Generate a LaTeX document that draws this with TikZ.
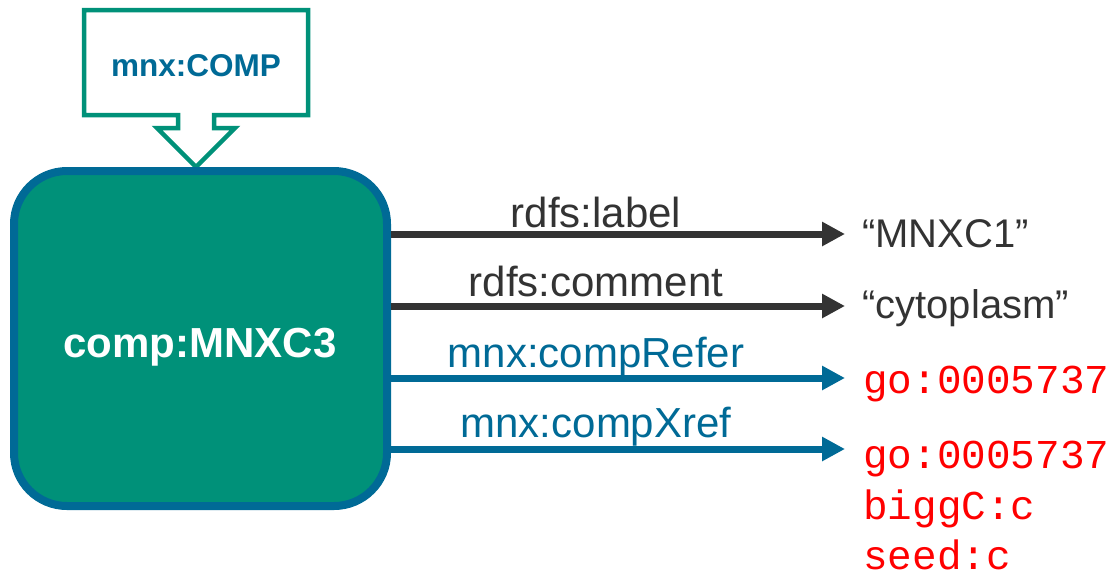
\documentclass[tikz,border=0pt]{standalone}
\usepackage{fontspec}
\setmainfont{Liberation Sans}
\setmonofont{Liberation Mono}
\usetikzlibrary{arrows.meta}
\definecolor{tealfill}{HTML}{009179}
\definecolor{bluec}{HTML}{006A96}
\definecolor{grayc}{HTML}{333333}
\definecolor{redc}{HTML}{FF0000}
\tikzset{
  mainbox/.style={draw=bluec, fill=tealfill, line width=8pt, rounded corners=53pt,
    minimum width=373pt, minimum height=335pt, inner sep=0pt},
  calloutline/.style={draw=tealfill, line width=4.5pt, line join=miter, fill=white},
  grayarrow/.style={draw=grayc, line width=7pt, -{Triangle[length=23pt,width=23pt]}},
  bluearrow/.style={draw=bluec, line width=7pt, -{Triangle[length=23pt,width=23pt]}},
  edgelabel/.style={anchor=base, inner sep=0pt, font=\fontsize{42}{50}\selectfont},
  valtext/.style={anchor=base west, inner sep=0pt, text=grayc, font=\fontsize{40}{48}\selectfont},
  idtext/.style={anchor=base west, inner sep=0pt, text=redc, font=\ttfamily\fontsize{41}{52}\selectfont},
}
\begin{document}
\begin{tikzpicture}[x=1pt,y=-1pt]
\useasboundingbox (0,0) rectangle (1118,574);
% callout
\draw[calloutline] (84,10) -- (308,10) -- (308,115) -- (214,115) -- (214,128) -- (235,128)
  -- (196,167) -- (157,128) -- (178,128) -- (178,115) -- (84,115) -- cycle;
\node[anchor=base, inner sep=0pt, text=bluec, font=\bfseries\fontsize{31.5}{38}\selectfont] (ctype) at (196,76) {mnx:COMP};
% main box
\node[mainbox] (comp) at (200.5,338.5) {};
\node[anchor=base, inner sep=0pt, text=white, font=\bfseries\fontsize{42}{50}\selectfont] (complabel) at (200,357) {comp:MNXC3};
% arrow ends
\coordinate (a1) at (845,234);
\coordinate (a2) at (845,306);
\coordinate (a3) at (845,378);
\coordinate (a4) at (845,449);
\draw[grayarrow] (comp.east |- a1) -- (a1);
\draw[grayarrow] (comp.east |- a2) -- (a2);
\draw[bluearrow] (comp.east |- a3) -- (a3);
\draw[bluearrow] (comp.east |- a4) -- (a4);
% edge labels
\node[edgelabel, text=grayc] (l1) at (596,227) {rdfs:label};
\node[edgelabel, text=grayc] (l2) at (596,296) {rdfs:comment};
\node[edgelabel, text=bluec] (l3) at (596,367) {mnx:compRefer};
\node[edgelabel, text=bluec] (l4) at (596,437) {mnx:compXref};
% values
\node[valtext] (v1) at (862,247) {“MNXC1”};
\node[valtext] (v2) at (862,318) {“cytoplasm”};
\node[idtext] (v3) at (863,393) {go:0005737};
\node[idtext] (v4) at (863,468) {go:0005737};
\node[idtext] (v5) at (863,519) {biggC:c};
\node[idtext] (v6) at (863,569) {seed:c};
\end{tikzpicture}
\end{document}
